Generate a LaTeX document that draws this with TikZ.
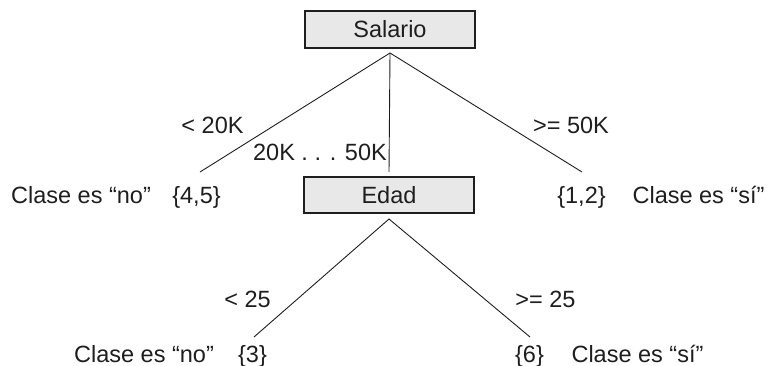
\documentclass[tikz,border=0pt]{standalone}
\usepackage{fontspec}
\setmainfont{Liberation Sans}
\definecolor{boxfill}{HTML}{E8E8E8}
\definecolor{ink}{HTML}{1E1E1E}
\begin{document}
\begin{tikzpicture}[x=1pt,y=-1pt,
  every node/.style={font=\fontsize{23.5}{28}\selectfont, text=ink},
  attrbox/.style={draw=ink, line width=1.2pt, fill=boxfill, minimum width=170pt, inner sep=0pt},
  lbl/.style={anchor=base, inner sep=0pt},
  edge/.style={draw=ink, line width=0.9pt}]
\useasboundingbox (0,0) rectangle (767,366);
% boxes
\node[attrbox, minimum height=37pt] (sal) at (390,29.5) {Salario};
\node[attrbox, minimum height=36pt] (eda) at (389,195) {Edad};
% connector ends
\coordinate (apS) at (390,53);
\coordinate (eL) at (200,172);
\coordinate (eM) at (389,172);
\coordinate (eR) at (582,172);
\coordinate (apE) at (389,219);
\coordinate (eL2) at (254,337);
\coordinate (eR2) at (530,337);
\draw[edge] (eL) -- (apS) -- (eR);
\draw[edge] (apS) -- (eM);
\draw[edge] (eL2) -- (apE) -- (eR2);
% labels
\node[lbl] (l1) at (212.5,133.5) {< 20K};
\node[lbl, anchor=base east] (l2) at (387,160.5) {20K . . . 50K};
\node[lbl] (l3) at (571,133.5) {>= 50K};
\node[lbl] (c1) at (81,203) {Clase es “no”};
\node[lbl] (s1) at (196.5,203) {\{4,5\}};
\node[lbl] (s2) at (581.5,203) {\{1,2\}};
\node[lbl] (c2) at (698.5,203) {Clase es “sí”};
\node[lbl] (l4) at (247.5,307.5) {< 25};
\node[lbl] (l5) at (545.5,307.5) {>= 25};
\node[lbl] (c3) at (144,362.5) {Clase es “no”};
\node[lbl] (s3) at (252.5,362.5) {\{3\}};
\node[lbl] (s4) at (529.5,362.5) {\{6\}};
\node[lbl] (c4) at (637.5,362.5) {Clase es “sí”};
\end{tikzpicture}
\end{document}
